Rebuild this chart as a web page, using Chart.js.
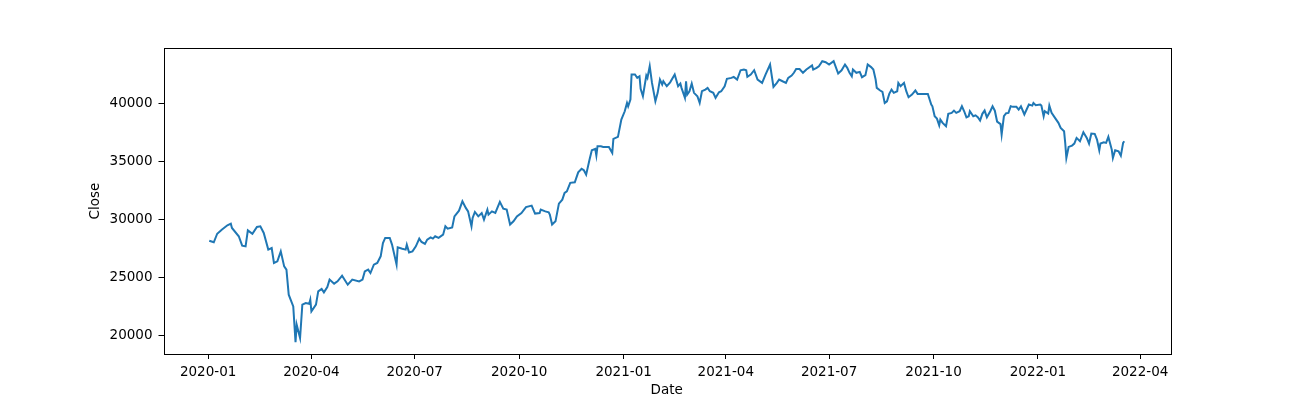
<!DOCTYPE html>
<html>
<head>
<meta charset="utf-8">
<title>Close</title>
<script src="https://cdn.jsdelivr.net/npm/chart.js@4.4.1/dist/chart.umd.min.js"></script>
<style>
  html, body { margin: 0; padding: 0; background: #fff; }
  #wrap { width: 1300px; height: 400px; }
</style>
</head>
<body>
<div id="wrap"><canvas id="myChart" width="1300" height="400"></canvas></div>
<script>
// trading dates and closing values
var dates = [
  '2020-01-02','2020-01-06','2020-01-09','2020-01-13','2020-01-18','2020-01-21','2020-01-22','2020-01-28','2020-01-31',
  '2020-02-03','2020-02-05','2020-02-09','2020-02-13','2020-02-16','2020-02-19','2020-02-23','2020-02-26','2020-02-28',
  '2020-03-02','2020-03-05','2020-03-08','2020-03-10','2020-03-12','2020-03-16','2020-03-18','2020-03-19','2020-03-22',
  '2020-03-24','2020-03-27','2020-03-30','2020-03-31','2020-04-01','2020-04-05','2020-04-07','2020-04-10','2020-04-12',
  '2020-04-15','2020-04-17','2020-04-21','2020-04-24','2020-04-28','2020-05-03','2020-05-07','2020-05-13','2020-05-16',
  '2020-05-18','2020-05-21','2020-05-23','2020-05-26','2020-05-29','2020-06-01','2020-06-03','2020-06-05','2020-06-09',
  '2020-06-11','2020-06-15','2020-06-16','2020-06-20','2020-06-23','2020-06-24','2020-06-26','2020-06-29','2020-07-02',
  '2020-07-05','2020-07-07','2020-07-10','2020-07-12','2020-07-15','2020-07-17','2020-07-19','2020-07-22','2020-07-26',
  '2020-07-28','2020-07-30','2020-08-03','2020-08-05','2020-08-09','2020-08-12','2020-08-15','2020-08-17','2020-08-20',
  '2020-08-21','2020-08-23','2020-08-26','2020-08-29','2020-08-31','2020-09-03','2020-09-04','2020-09-07','2020-09-10',
  '2020-09-14','2020-09-17','2020-09-20','2020-09-23','2020-09-26','2020-09-29','2020-10-03','2020-10-07','2020-10-12',
  '2020-10-15','2020-10-19','2020-10-20','2020-10-24','2020-10-27','2020-10-28','2020-10-30','2020-11-02','2020-11-05',
  '2020-11-08','2020-11-10','2020-11-12','2020-11-15','2020-11-19','2020-11-22','2020-11-25','2020-11-27','2020-11-29',
  '2020-12-02','2020-12-04','2020-12-07','2020-12-08','2020-12-09','2020-12-12','2020-12-14','2020-12-19','2020-12-22',
  '2020-12-23','2020-12-27','2020-12-30',
  '2021-01-02','2021-01-04','2021-01-05','2021-01-07','2021-01-08','2021-01-11','2021-01-13','2021-01-15','2021-01-16',
  '2021-01-18','2021-01-21','2021-01-22','2021-01-24','2021-01-26','2021-01-29','2021-01-31','2021-02-02','2021-02-04',
  '2021-02-05','2021-02-08','2021-02-11','2021-02-15','2021-02-18','2021-02-20','2021-02-21','2021-02-24','2021-02-25',
  '2021-02-26','2021-02-28','2021-03-02','2021-03-04','2021-03-07','2021-03-09','2021-03-11','2021-03-14','2021-03-16',
  '2021-03-18','2021-03-21','2021-03-23','2021-03-26','2021-03-28','2021-03-31','2021-04-02','2021-04-06','2021-04-08',
  '2021-04-11','2021-04-14','2021-04-17','2021-04-19','2021-04-20','2021-04-23','2021-04-26','2021-04-29','2021-05-03',
  '2021-05-06','2021-05-10','2021-05-13','2021-05-16','2021-05-18','2021-05-21','2021-05-24','2021-05-26','2021-05-29',
  '2021-05-31','2021-06-02','2021-06-05','2021-06-08','2021-06-11','2021-06-16','2021-06-17','2021-06-20','2021-06-22',
  '2021-06-25','2021-06-28','2021-07-01','2021-07-05','2021-07-09','2021-07-12','2021-07-15','2021-07-17','2021-07-19',
  '2021-07-21','2021-07-22','2021-07-25','2021-07-28','2021-07-30','2021-08-02','2021-08-04','2021-08-07','2021-08-09',
  '2021-08-11','2021-08-12','2021-08-15','2021-08-17','2021-08-19','2021-08-21','2021-08-23','2021-08-25','2021-08-27',
  '2021-08-30','2021-08-31','2021-09-02','2021-09-05','2021-09-07','2021-09-09','2021-09-12','2021-09-15','2021-09-17',
  '2021-09-22','2021-09-26','2021-09-29','2021-09-30','2021-10-02','2021-10-04','2021-10-06','2021-10-07','2021-10-09',
  '2021-10-12','2021-10-14','2021-10-17','2021-10-19','2021-10-21','2021-10-24','2021-10-26','2021-10-28','2021-10-30',
  '2021-11-01','2021-11-02','2021-11-05','2021-11-07','2021-11-09','2021-11-11','2021-11-13','2021-11-15','2021-11-17',
  '2021-11-20','2021-11-22','2021-11-24','2021-11-26','2021-11-29','2021-11-30','2021-12-02','2021-12-04','2021-12-06',
  '2021-12-08','2021-12-10','2021-12-13','2021-12-15','2021-12-17','2021-12-20','2021-12-22','2021-12-24','2021-12-27',
  '2021-12-28','2021-12-30',
  '2022-01-03','2022-01-04','2022-01-06','2022-01-07','2022-01-10','2022-01-11','2022-01-13','2022-01-16','2022-01-19',
  '2022-01-21','2022-01-24','2022-01-25','2022-01-26','2022-01-28','2022-01-31','2022-02-02','2022-02-04','2022-02-07',
  '2022-02-10','2022-02-13','2022-02-15','2022-02-17','2022-02-20','2022-02-22','2022-02-24','2022-02-25','2022-02-28',
  '2022-03-02','2022-03-04','2022-03-07','2022-03-08','2022-03-10','2022-03-13','2022-03-15','2022-03-17','2022-03-18'
];
var closes = [
  28200,28060,28800,29150,29530,29670,29300,28580,27770,
  27710,29090,28800,29390,29440,28870,27430,27570,26280,
  26420,27280,25980,25700,23540,22530,19450,20950,19800,
  22680,22820,22760,23110,22100,22680,23830,24030,23740,
  24200,24840,24490,24690,25180,24400,24840,24690,24840,
  25550,25700,25410,26130,26280,26850,28000,28440,28440,
  27860,26130,27630,27510,27430,27860,27190,27280,27710,
  28380,28090,27920,28290,28490,28380,28580,28440,28720,
  29440,29240,29350,30300,30790,31600,31030,30730,29440,
  30160,30680,30300,30590,30020,30880,30450,30730,30590,
  31550,30970,30880,29590,29870,30300,30590,31100,31230,
  30540,30590,30880,30730,30650,30450,29590,29870,31400,
  31740,32320,32460,33190,33240,34100,34400,34280,33900,
  35200,36000,36120,35540,36350,36350,36290,36290,35780,
  36990,37160,38650,
  39370,40090,39800,40380,42540,42540,42250,42390,41300,
  40670,42450,42250,43260,41820,40230,40960,42110,41680,
  41960,41530,41870,42540,41530,41760,41390,40530,41960,
  40810,41100,41760,40960,40670,40090,41100,41240,41390,
  41100,40960,40530,41010,41100,41530,42170,42250,42340,
  42110,42910,42970,42910,42340,42540,42910,42110,41820,
  42540,43400,41470,41820,42110,41960,41820,42250,42450,
  42690,43020,43020,42690,42970,43320,42970,43120,43260,
  43690,43600,43400,43690,42630,42910,43400,43120,42690,
  42390,42970,42690,42770,42310,42480,43400,43180,42970,
  42110,41390,41160,41040,40090,40230,40870,41240,40960,
  41100,41820,41530,41820,41100,40580,40810,41160,40870,
  40870,40870,39950,39800,38940,38740,38160,38650,38370,
  38080,39150,39230,39430,39230,39370,39800,39370,38850,
  38940,39370,38940,39020,38850,38570,39150,39430,38850,
  39370,39800,39420,38480,38260,37360,38950,39200,39230,
  39800,39750,39750,39520,39800,39090,39520,39950,39860,
  40090,39890,
  39950,39860,38940,39370,39170,39860,39230,38800,38370,
  37940,37640,36640,35340,36290,36410,36580,37070,36780,
  37560,37070,36580,37440,37420,36930,36000,36580,36690,
  36640,37160,36060,35340,36000,35920,35540,36640,36780
];
var tickLabels = ['2020-01','2020-04','2020-07','2020-10','2021-01','2021-04','2021-07','2021-10','2022-01','2022-04'];
var yTickValues = [20000, 25000, 30000, 35000, 40000];

// days since 2020-01-01, used as the x value
var origin = Date.UTC(2020, 0, 1);
function dayOf(s) {
  var p = s.split('-');
  return (Date.UTC(+p[0], +p[1] - 1, p[2] ? +p[2] : 1) - origin) / 864e5;
}

var points = dates.map(function (d, i) { return { x: dayOf(d), y: closes[i] }; });
var tickDays = tickLabels.map(dayOf);

var font = { family: 'DejaVu Sans', size: 13.5 };

var frame = {
  id: 'frame',
  afterDraw: function (chart) {
    var a = chart.chartArea, c = chart.ctx;
    c.save();
    c.strokeStyle = '#000';
    c.lineWidth = 1;
    c.strokeRect(Math.round(a.left) + 0.5, Math.round(a.top) + 0.5,
                 Math.round(a.right - a.left), Math.round(a.bottom - a.top));
    c.restore();
  }
};

var ctx = document.getElementById('myChart').getContext('2d');
var myChart = new Chart(ctx, {
  type: 'line',
  data: {
    datasets: [{
      label: 'Close',
      data: points,
      borderColor: '#1f77b4',
      borderWidth: 2,
      pointRadius: 0,
      fill: false,
      tension: 0
    }]
  },
  options: {
    responsive: false,
    animation: false,
    devicePixelRatio: 1,
    layout: { padding: { top: 48, right: 130, left: 0, bottom: 0 } },
    plugins: { legend: { display: false }, tooltip: { enabled: false } },
    scales: {
      x: {
        type: 'linear',
        min: -39.3,
        max: 847.3,
        afterFit: function (s) { s.height = 46; },
        afterBuildTicks: function (s) { s.ticks = tickDays.map(function (v) { return { value: v }; }); },
        ticks: {
          color: '#000', font: font, padding: 5, maxRotation: 0, autoSkip: false,
          callback: function (v) { var i = tickDays.indexOf(v); return i >= 0 ? tickLabels[i] : ''; }
        },
        grid: { drawOnChartArea: false, drawTicks: true, tickLength: 5, color: '#000' },
        border: { display: false },
        title: { display: true, text: 'Date', color: '#000', font: font, padding: { top: 0, bottom: 1 } }
      },
      y: {
        type: 'linear',
        min: 18420,
        max: 44830,
        afterFit: function (s) { s.width = 163.5; },
        afterBuildTicks: function (s) { s.ticks = yTickValues.map(function (v) { return { value: v }; }); },
        ticks: { color: '#000', font: font, padding: 6, callback: function (v) { return String(v); } },
        grid: { drawOnChartArea: false, drawTicks: true, tickLength: 5, color: '#000' },
        border: { display: false },
        title: { display: true, text: 'Close', color: '#000', font: font, padding: { top: 87, bottom: 0 } }
      }
    }
  },
  plugins: [frame]
});
</script>
</body>
</html>
